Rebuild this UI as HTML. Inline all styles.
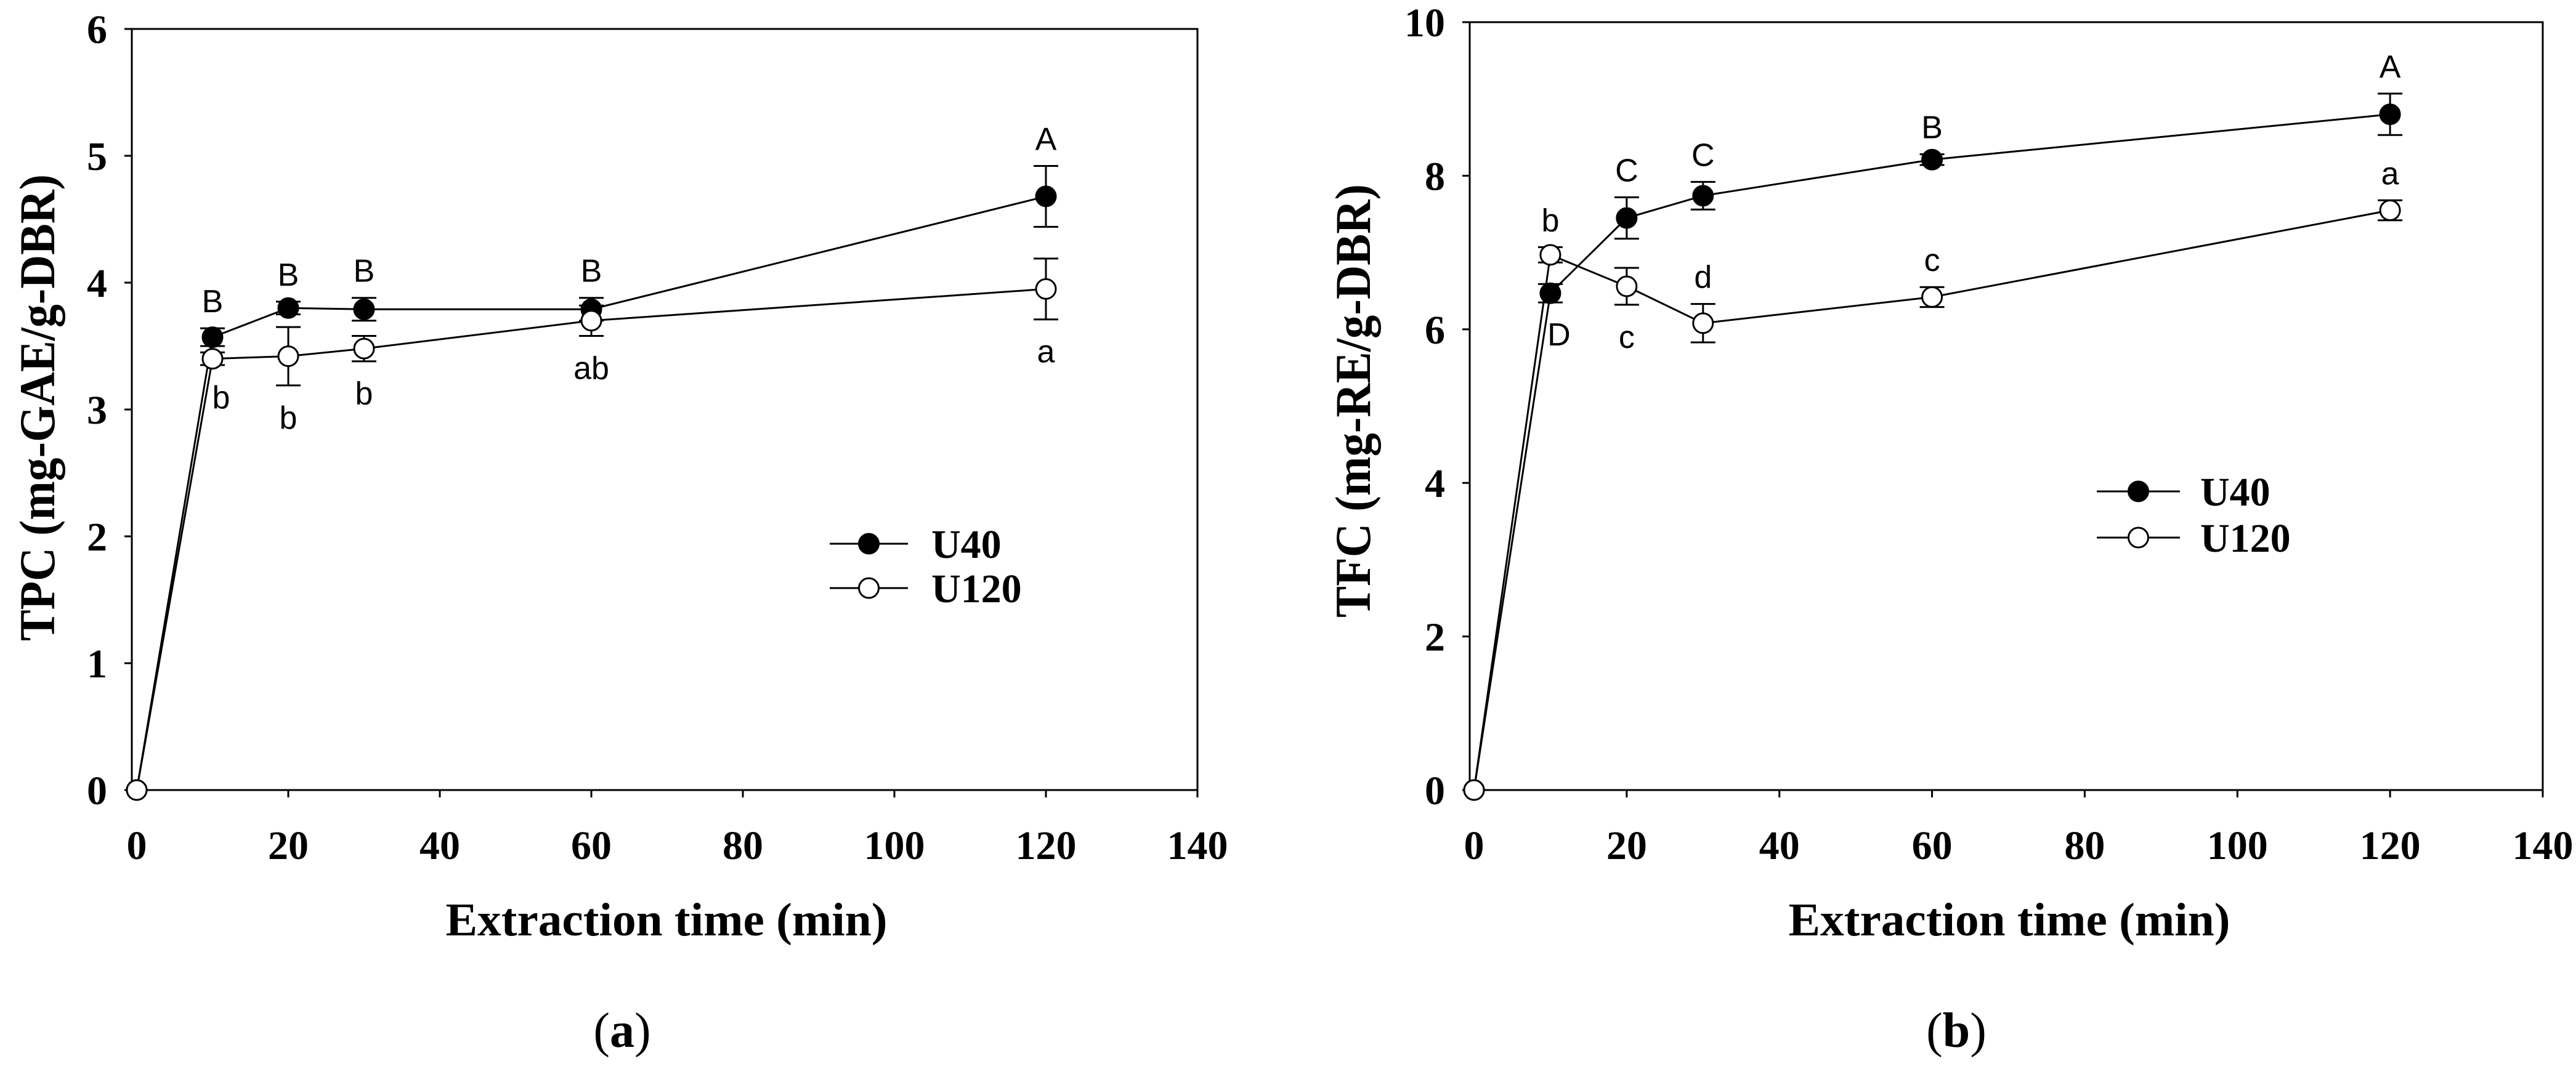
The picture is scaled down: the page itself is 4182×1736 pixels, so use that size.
<!DOCTYPE html>
<html><head><meta charset="utf-8"><style>
html,body{margin:0;padding:0;background:#fff;}
svg{display:block;}
</style></head><body>
<svg id="fig" width="4182" height="1736" viewBox="0 0 4182 1736" xmlns="http://www.w3.org/2000/svg"></svg>
<script>
const times = [0, 10, 20, 30, 60, 120];
const xTicks = [0, 20, 40, 60, 80, 100, 120, 140];
// Panel a (TPC)
const tpcU40 = [0, 3.57, 3.80, 3.79, 3.79, 4.68];
const tpcU40Err = [0, 0.07, 0.05, 0.09, 0.09, 0.24];
const tpcU120 = [0, 3.40, 3.42, 3.48, 3.70, 3.95];
const tpcU120Err = [0, 0.05, 0.23, 0.10, 0.12, 0.24];
const tpcU40Letters = ["", "B", "B", "B", "B", "A"];
const tpcU40Pos = ["", "up", "up", "up", "up", "up"];
const tpcU120Letters = ["", "b", "b", "b", "ab", "a"];
const tpcU120Pos = ["", "down", "down", "down", "down", "down"];
const tpcYTicks = [0, 1, 2, 3, 4, 5, 6];
// Panel b (TFC)
const tfcU40 = [0, 6.47, 7.45, 7.74, 8.21, 8.80];
const tfcU40Err = [0, 0.12, 0.27, 0.18, 0.07, 0.27];
const tfcU120 = [0, 6.97, 6.56, 6.08, 6.42, 7.55];
const tfcU120Err = [0, 0.10, 0.24, 0.25, 0.13, 0.13];
const tfcU40Letters = ["", "D", "C", "C", "B", "A"];
const tfcU40Pos = ["", "down", "up", "up", "up", "up"];
const tfcU120Letters = ["", "b", "c", "d", "c", "a"];
const tfcU120Pos = ["", "up", "down", "up", "up", "up"];
const tfcYTicks = [0, 2, 4, 6, 8, 10];

const NS = "http://www.w3.org/2000/svg";
const svg = document.getElementById('fig');
function mk(tag, attrs, parent) {
  const e = document.createElementNS(NS, tag);
  for (const k in attrs) e.setAttribute(k, attrs[k]);
  (parent || svg).appendChild(e);
  return e;
}
const SERIF = '"Liberation Serif", serif';
const SANS = '"Liberation Sans", sans-serif';

function panel(cfg) {
  const g = mk('g', {});
  
  
  const xs = v => cfg.x0 + (v / 140) * (cfg.x1 - cfg.x0);
  const ys = v => cfg.y0 - (v / cfg.ymax) * (cfg.y0 - cfg.y1);
  const frame = mk('rect', {x: cfg.fl, y: cfg.y1, width: cfg.x1 - cfg.fl, height: cfg.y0 - cfg.y1, fill: 'none', stroke: '#000', 'stroke-width': 3}, g);
  
  
  xTicks.forEach(t => {
    const X = xs(t);
    const tk = mk('line', {x1: X, x2: X, y1: cfg.y0, y2: cfg.y0 + 12, stroke: '#000', 'stroke-width': 3}, g);
    
    
    const tl = mk('text', {x: X, y: 1395, 'text-anchor': 'middle', 'font-family': SERIF, 'font-weight': 'bold', 'font-size': 66}, g);
    tl.textContent = t;
    
    
  });
  cfg.yTicks.forEach(t => {
    const Y = ys(t);
    const tk = mk('line', {x1: cfg.fl - 12, x2: cfg.fl, y1: Y, y2: Y, stroke: '#000', 'stroke-width': 3}, g);
    
    
    const tl = mk('text', {x: cfg.fl - 40, y: Y + 23, 'text-anchor': 'end', 'font-family': SERIF, 'font-weight': 'bold', 'font-size': 66}, g);
    tl.textContent = t;
    
    
  });
  const xt = mk('text', {x: cfg.xtX, y: 1519, 'text-anchor': 'middle', 'font-family': SERIF, 'font-weight': 'bold', 'font-size': 76, textLength: 717, lengthAdjust: 'spacingAndGlyphs'}, g);
  xt.textContent = 'Extraction time (min)';
  
  
  const yt = mk('text', {x: 0, y: 0, 'text-anchor': 'middle', 'font-family': SERIF, 'font-weight': 'bold', 'font-size': 82, textLength: cfg.ytLen, lengthAdjust: 'spacingAndGlyphs', transform: `translate(${cfg.ytX},${cfg.ytY}) rotate(-90)`}, g);
  yt.textContent = cfg.ytitle;
  
  
  const cap = mk('text', {x: cfg.capX, y: 1700, 'text-anchor': 'middle', 'font-family': SERIF, 'font-size': 80}, g);
  
  
  const p1 = mk('tspan', {}, cap); p1.textContent = '(';
  const p2 = mk('tspan', {'font-weight': 'bold'}, cap); p2.textContent = cfg.caption;
  const p3 = mk('tspan', {}, cap); p3.textContent = ')';

  function series(vals, errs, letters, pos, fill, sname) {
    const sg = mk('g', {}, g);
    
    
    const pts = vals.map((v, i) => xs(times[i]) + ',' + ys(v)).join(' ');
    const pl = mk('polyline', {points: pts, fill: 'none', stroke: '#000', 'stroke-width': 3}, sg);
    
    
    vals.forEach((v, i) => {
      const X = xs(times[i]);
      const e = errs[i];
      if (e > 0) {
        const top = ys(v + e), bot = ys(v - e);
        const eb = mk('path', {d: `M${X},${top}V${bot}M${X - 20},${top}H${X + 20}M${X - 20},${bot}H${X + 20}`, stroke: '#000', 'stroke-width': 3, fill: 'none'}, sg);
        
        
      }
      const c = mk('circle', {cx: X, cy: ys(v), r: 16, fill: fill, stroke: '#000', 'stroke-width': 3}, sg);
      
      
      if (letters[i]) {
        const up = pos[i] === 'up';
        const Y = up ? ys(v + e) - 26 : ys(v - e) + 70;
        const dx = (!up && times[i] === 10) ? 14 : 0;
        const lt = mk('text', {x: X + dx, y: Y, 'text-anchor': 'middle', 'font-family': SANS, 'font-size': 52}, sg);
        lt.textContent = letters[i];
        
        
      }
    });
  }
  series(cfg.u40, cfg.u40e, cfg.u40l, cfg.u40p, '#000', 'series-u40');
  series(cfg.u120, cfg.u120e, cfg.u120l, cfg.u120p, '#fff', 'series-u120');

  const lg = mk('g', {}, g);
  
  
  [['U40', '#000', cfg.lgY1], ['U120', '#fff', cfg.lgY2]].forEach(([lab, f, Y]) => {
    const ln = mk('line', {x1: cfg.lgX1, x2: cfg.lgX2, y1: Y, y2: Y, stroke: '#000', 'stroke-width': 3}, lg);
    
    
    const c = mk('circle', {cx: (cfg.lgX1 + cfg.lgX2) / 2, cy: Y, r: 16, fill: f, stroke: '#000', 'stroke-width': 3}, lg);
    
    
    const t = mk('text', {x: cfg.lgTX, y: Y + 23, 'font-family': SERIF, 'font-weight': 'bold', 'font-size': 66}, lg);
    t.textContent = lab;
    
    
  });
}

panel({name: 'panel-a-tpc', x0: 222, x1: 1944, fl: 214, y0: 1283, y1: 47, ymax: 6, yTicks: tpcYTicks,
  xtX: 1082, ytitle: 'TPC (mg-GAE/g-DBR)', ytX: 88, ytY: 662, ytLen: 758, capX: 1010, caption: 'a',
  u40: tpcU40, u40e: tpcU40Err, u40l: tpcU40Letters, u40p: tpcU40Pos,
  u120: tpcU120, u120e: tpcU120Err, u120l: tpcU120Letters, u120p: tpcU120Pos,
  lgX1: 1347, lgX2: 1474, lgY1: 883, lgY2: 955, lgTX: 1512});
panel({name: 'panel-b-tfc', x0: 2393, x1: 4128, fl: 2386, y0: 1283, y1: 36, ymax: 10, yTicks: tfcYTicks,
  xtX: 3262, ytitle: 'TFC (mg-RE/g-DBR)', ytX: 2224, ytY: 651, ytLen: 704, capX: 3176, caption: 'b',
  u40: tfcU40, u40e: tfcU40Err, u40l: tfcU40Letters, u40p: tfcU40Pos,
  u120: tfcU120, u120e: tfcU120Err, u120l: tfcU120Letters, u120p: tfcU120Pos,
  lgX1: 3404, lgX2: 3539, lgY1: 798, lgY2: 873, lgTX: 3572});
</script>
</body></html>
